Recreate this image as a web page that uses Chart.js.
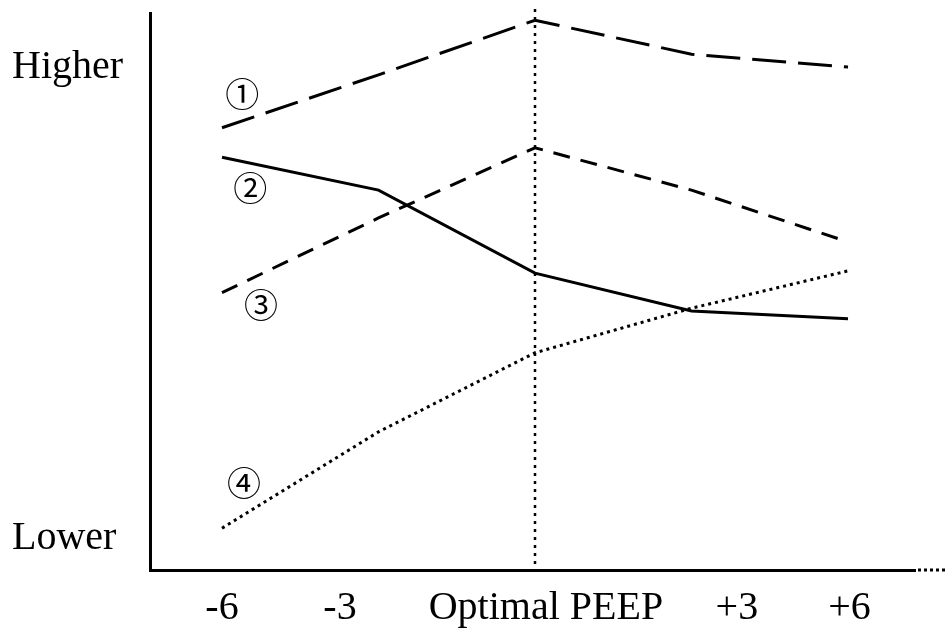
<!DOCTYPE html>
<html>
<head>
<meta charset="utf-8">
<script src="https://cdn.jsdelivr.net/npm/chart.js@4/dist/chart.umd.min.js"></script>
<style>
  html, body { margin: 0; padding: 0; background: #fff; }
  #wrap { width: 946px; height: 633px; }
</style>
</head>
<body>
<div id="wrap"><canvas id="peepChart" width="946" height="633"></canvas></div>
<script>
// Data (relative scale, 0 = bottom axis, 100 = top of y axis)
const categories = ['-6', '-3', 'Optimal PEEP', '+3', '+6'];
const series1 = [79.4, 88.9, 98.7, 92.6, 90.3];
const series2 = [74.1, 68.2, 53.3, 46.5, 45.1];
const series3 = [49.8, 63.2, 75.8, 68.2, 58.9];
const series4 = [7.5, 24.8, 39.0, 47.0, 53.7];
const yTickValues = [5.6, 90.3];
const yTickLabels = ['Lower', 'Higher'];
const seriesMarks = ['①', '②', '③', '④'];
const optimalIndex = 2;

// the category labels in the original sit a little off the data points
const labelSpots = [0, 0.754, 2.07, 3.29, 4.01];

function toPoints(values) {
    return values.map(function(v, i) { return { x: i, y: v }; });
}

// circled numbers, vertical dotted line at optimal PEEP, dotted end of x axis
const extrasPlugin = {
    id: 'extras',
    afterDatasetsDraw(chart, args, opts) {
        let ctx = chart.ctx;
        let xs = chart.scales.x;
        let ys = chart.scales.y;
        let area = chart.chartArea;
        ctx.save();

        // vertical dotted line
        let vx = xs.getPixelForValue(optimalIndex);
        ctx.strokeStyle = '#000';
        ctx.lineWidth = 2.5;
        ctx.setLineDash([3, 5]);
        ctx.beginPath();
        ctx.moveTo(vx, area.top - 4);
        ctx.lineTo(vx, area.bottom);
        ctx.stroke();

        // dotted continuation of the x axis
        ctx.lineWidth = 3;
        ctx.setLineDash([3, 3]);
        ctx.beginPath();
        ctx.moveTo(area.right + 3, area.bottom);
        ctx.lineTo(chart.width, area.bottom);
        ctx.stroke();
        ctx.setLineDash([]);

        // circled series numbers
        ctx.fillStyle = '#000';
        ctx.font = '34px "Noto Sans CJK JP", "DejaVu Sans", sans-serif';
        ctx.textAlign = 'center';
        ctx.textBaseline = 'middle';
        opts.marks.forEach(function(m, i) {
            ctx.fillText(seriesMarks[i], xs.getPixelForValue(m[0]), ys.getPixelForValue(m[1]));
        });
        ctx.restore();
    }
};

let peepCtx = document.getElementById('peepChart').getContext('2d');

let peepChart = new Chart(peepCtx, {
    type: 'line',
    data: {
        datasets: [{
            label: '1',
            data: toPoints(series1),
            borderColor: '#000',
            borderWidth: 3,
            borderDash: [34, 12]
        }, {
            label: '2',
            data: toPoints(series2),
            borderColor: '#000',
            borderWidth: 3
        }, {
            label: '3',
            data: toPoints(series3),
            borderColor: '#000',
            borderWidth: 3,
            borderDash: [17, 11]
        }, {
            label: '4',
            data: toPoints(series4),
            borderColor: '#000',
            borderWidth: 3,
            borderDash: [3, 4]
        }]
    },
    options: {
        responsive: false,
        animation: false,
        devicePixelRatio: 1,
        elements: {
            point: { radius: 0 },
            line: { tension: 0, fill: false }
        },
        layout: {
            padding: { left: 12, top: 13, right: 31, bottom: 0 }
        },
        scales: {
            x: {
                type: 'linear',
                min: -0.46,
                max: 4.428,
                grid: { display: false, drawTicks: false },
                border: { display: true, color: '#000', width: 3 },
                afterBuildTicks: function(scale) {
                    scale.ticks = labelSpots.map(function(v) { return { value: v }; });
                },
                afterFit: function(scale) {
                    scale.height = 63;
                },
                ticks: {
                    color: '#000',
                    padding: 14,
                    maxRotation: 0,
                    autoSkip: false,
                    font: { family: '"Liberation Serif", "Times New Roman", serif', size: 40 },
                    callback: function(value, index) {
                        return categories[index];
                    }
                }
            },
            y: {
                min: 0,
                max: 100,
                grid: { display: false, drawTicks: false },
                border: { display: true, color: '#000', width: 3 },
                afterBuildTicks: function(scale) {
                    scale.ticks = yTickValues.map(function(v) { return { value: v }; });
                },
                afterFit: function(scale) {
                    scale.width = 138;
                },
                ticks: {
                    color: '#000',
                    crossAlign: 'far',
                    font: { family: '"Liberation Serif", "Times New Roman", serif', size: 40, lineHeight: 0.5 },
                    callback: function(value, index) {
                        return yTickLabels[index];
                    }
                }
            }
        },
        plugins: {
            legend: { display: false },
            tooltip: { enabled: false },
            extras: {
                marks: [[0.13, 85.5], [0.18, 68.6], [0.25, 47.6], [0.14, 15.6]]
            }
        }
    },
    plugins: [extrasPlugin]
});
</script>
</body>
</html>
